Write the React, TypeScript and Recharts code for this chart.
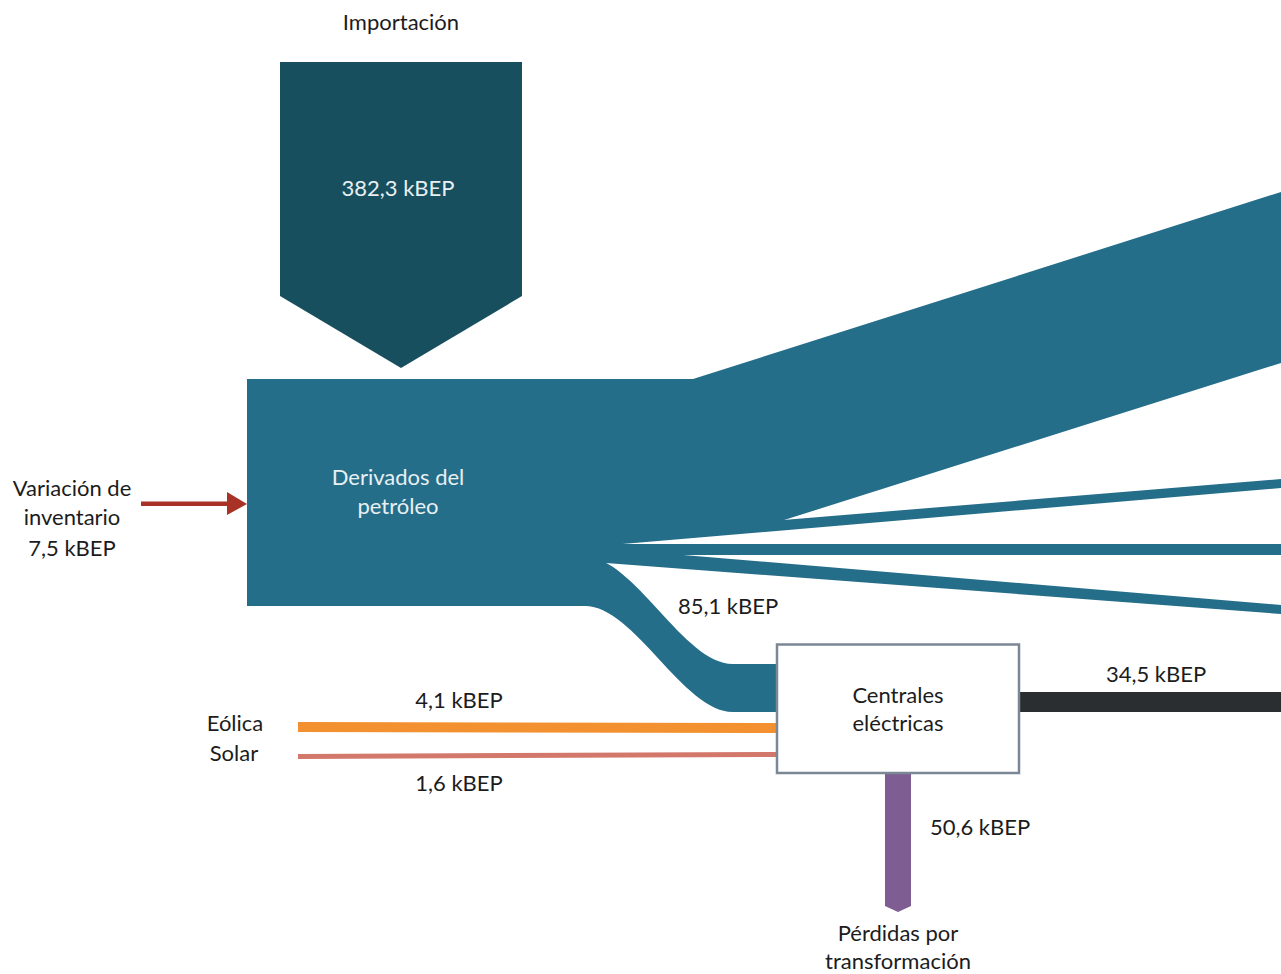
import React from "react";
import { ComposedChart, XAxis, YAxis, Area, ReferenceArea, Scatter } from "recharts";

const W = 1281;
const H = 974;
const FONT = "Lato, 'Open Sans', sans-serif";

// flujos en kBEP
const importacion = 382.3;
const variacionInventario = 7.5;
const haciaCentrales = 85.1;
const eolica = 4.1;
const solar = 1.6;
const generacion = 34.5;
const perdidas = 50.6;

const kbep = (v: number) => `${v.toFixed(1).replace(".", ",")} kBEP`;

const importLabel = ["Importación"];
const derivadosLabel = ["Derivados del", "petróleo"];
const inventarioLabel = ["Variación de", "inventario", kbep(variacionInventario)];
const centralesLabel = ["Centrales", "eléctricas"];
const perdidasLabel = ["Pérdidas por", "transformación"];

// contornos de las bandas (coordenadas del diagrama, y hacia abajo)
type Pt = { x: number; band: [number, number] };
const importArrow: Pt[] = [
  { x: 280, band: [62, 296] },
  { x: 401, band: [62, 368] },
  { x: 522, band: [62, 296] },
];
const bigBand: Pt[] = [
  { x: 540, band: [379, 545] },
  { x: 693, band: [379, 530] },
  { x: 781, band: [351, 521] },
  { x: 1281, band: [192, 363] },
];
const thinBand1: Pt[] = [
  { x: 540, band: [540, 551] },
  { x: 1281, band: [479, 488] },
];
const thinBand2: Pt[] = [
  { x: 540, band: [544, 555] },
  { x: 1281, band: [544, 555] },
];
const thinBand3: Pt[] = [
  { x: 540, band: [543, 558] },
  { x: 1281, band: [605, 614] },
];
const centralesBand: Pt[] = [
  { x: 540, band: [557, 606] },
  { x: 585, band: [557, 606] },
  { x: 733, band: [664, 712] },
  { x: 777, band: [664, 712] },
];
const eolicaBand: Pt[] = [
  { x: 298, band: [722, 732] },
  { x: 777, band: [723, 733] },
];
const solarBand: Pt[] = [
  { x: 298, band: [754, 759] },
  { x: 777, band: [752, 757] },
];
const arrowHead: Pt[] = [
  { x: 227, band: [492, 515] },
  { x: 247, band: [504, 504] },
];
const perdidasBand: Pt[] = [
  { x: 885, band: [773, 906] },
  { x: 898, band: [773, 912] },
  { x: 911, band: [773, 906] },
];

const darkLabels = [
  { x: 401, y: 21, text: importLabel[0] },
  { x: 72, y: 487, text: inventarioLabel[0] },
  { x: 72, y: 516, text: inventarioLabel[1] },
  { x: 72, y: 547, text: inventarioLabel[2] },
  { x: 728, y: 605, text: kbep(haciaCentrales) },
  { x: 898, y: 694, text: centralesLabel[0] },
  { x: 898, y: 722, text: centralesLabel[1] },
  { x: 1156, y: 673, text: kbep(generacion) },
  { x: 459, y: 699, text: kbep(eolica) },
  { x: 235, y: 722, text: "Eólica" },
  { x: 234, y: 752, text: "Solar" },
  { x: 459, y: 782, text: kbep(solar) },
  { x: 980, y: 826, text: kbep(perdidas) },
  { x: 898, y: 932, text: perdidasLabel[0] },
  { x: 898, y: 960, text: perdidasLabel[1] },
];
const lightLabels = [
  { x: 398, y: 187, text: kbep(importacion) },
  { x: 398, y: 476, text: derivadosLabel[0] },
  { x: 398, y: 505, text: derivadosLabel[1] },
];

const TEAL = "#256e8a";
const DARK_TEAL = "#184f5f";

const textShape = (color: string) => (props: any) => (
  <text
    x={props.cx}
    y={props.cy}
    textAnchor="middle"
    dominantBaseline="central"
    fill={color}
    fontSize={22}
    fontFamily={FONT}
  >
    {props.payload.text}
  </text>
);

export default function App() {
  const band = (key: string, data: Pt[], fill: string, type: any = "linear") => (
    <Area
      key={key}
      data={data}
      dataKey="band"
      type={type}
      fill={fill}
      fillOpacity={1}
      stroke="none"
      dot={false}
      activeDot={false}
      isAnimationActive={false}
    />
  );

  return (
    <div style={{ position: "absolute", left: 0, top: 0, background: "#fff" }}>
      <ComposedChart width={W} height={H} margin={{ top: 0, right: 0, bottom: 0, left: 0 }}>
        <XAxis type="number" dataKey="x" domain={[0, W]} hide allowDataOverflow />
        <YAxis type="number" domain={[0, H]} reversed hide allowDataOverflow />

        {band("import", importArrow, DARK_TEAL)}
        <ReferenceArea x1={247} x2={548} y1={379} y2={606} fill={TEAL} fillOpacity={1} stroke="none" />
        {band("big", bigBand, TEAL)}
        {band("t1", thinBand1, TEAL)}
        {band("t2", thinBand2, TEAL)}
        {band("t3", thinBand3, TEAL)}
        {band("cen", centralesBand, TEAL, "monotoneX")}
        {band("eol", eolicaBand, "#f39130")}
        {band("sol", solarBand, "#d3776b")}
        {band("head", arrowHead, "#a93226")}
        <ReferenceArea x1={141} x2={228} y1={501.5} y2={506} fill="#a93226" fillOpacity={1} stroke="none" />
        {band("perd", perdidasBand, "#7e5e92")}
        <ReferenceArea x1={1019} x2={W} y1={692} y2={712} fill="#2b2e31" fillOpacity={1} stroke="none" />
        <ReferenceArea
          x1={777}
          x2={1019}
          y1={644.5}
          y2={773}
          fill="#ffffff"
          fillOpacity={1}
          stroke="#7b8794"
          strokeWidth={2.5}
          {...({ zIndex: 500 } as any)}
        />

        <Scatter data={darkLabels} dataKey="y" shape={textShape("#1c1c1c")} isAnimationActive={false} />
        <Scatter data={lightLabels} dataKey="y" shape={textShape("#e8f0f3")} isAnimationActive={false} />
      </ComposedChart>
    </div>
  );
}
